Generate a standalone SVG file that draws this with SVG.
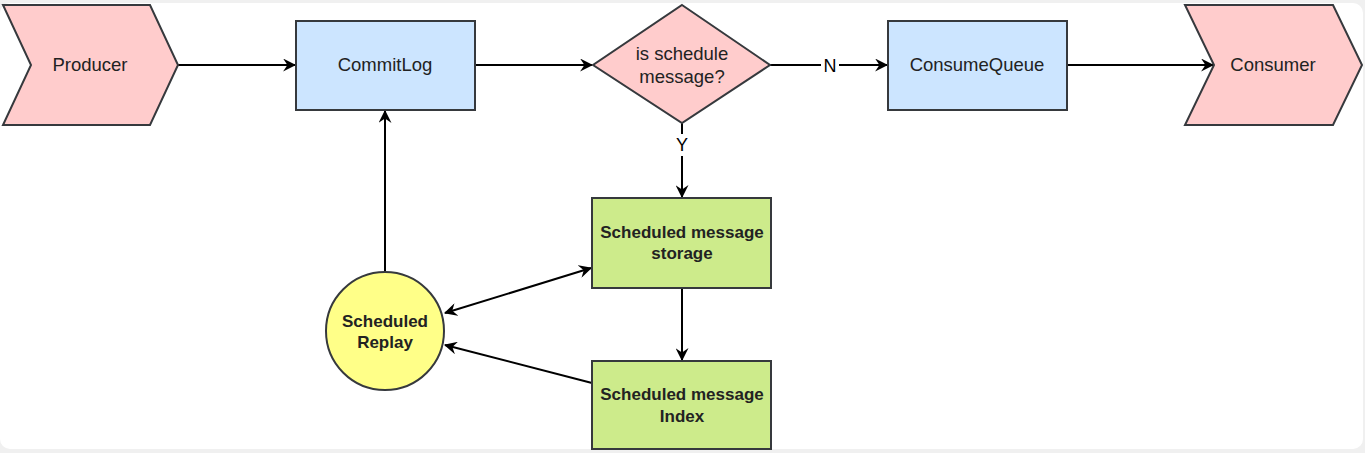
<svg xmlns="http://www.w3.org/2000/svg" width="1365" height="453" viewBox="0 0 1365 453">
<style>
.n{stroke:#36393d;stroke-width:2}
.pink{fill:#ffcccc}
.blue{fill:#cce5ff}
.green{fill:#cdeb8b}
.yel{fill:#ffff88}
text{font-family:"Liberation Sans",Arial,sans-serif;font-size:18.5px;fill:#222;text-anchor:middle;dominant-baseline:central}
.b{font-weight:bold;font-size:17px}
.e{fill:none;stroke:#000;stroke-width:2}
.lbl{font-size:18px;fill:#000}
</style>
<defs>
<marker id="ah" viewBox="0 0 12 12" refX="11" refY="6" markerWidth="13" markerHeight="13" markerUnits="userSpaceOnUse" orient="auto">
<path d="M0,0 L12,6 L0,12 L4,6 Z" fill="#000"/>
</marker>
<marker id="as" viewBox="0 0 12 12" refX="1" refY="6" markerWidth="13" markerHeight="13" markerUnits="userSpaceOnUse" orient="auto">
<path d="M12,0 L0,6 L12,12 L8,6 Z" fill="#000"/>
</marker>
</defs>
<rect x="0" y="0" width="1365" height="453" fill="#f0f0f0"/>
<rect x="0" y="3" width="1363" height="446" rx="10" fill="#ffffff"/>
<g id="connectors">
<line class="e" x1="178" y1="65" x2="295" y2="65" marker-end="url(#ah)"/>
<line class="e" x1="475" y1="65" x2="592" y2="65" marker-end="url(#ah)"/>
<line class="e" x1="770" y1="65" x2="887" y2="65" marker-end="url(#ah)"/>
<rect x="821" y="55" width="18" height="22" fill="#fff"/>
<text class="lbl" x="830" y="66">N</text>
<line class="e" x1="1067" y1="65" x2="1213" y2="65" marker-end="url(#ah)"/>
<line class="e" x1="682" y1="123" x2="682" y2="197" marker-end="url(#ah)"/>
<rect x="672" y="134" width="20" height="22" fill="#fff"/>
<text class="lbl" x="682" y="145">Y</text>
<line class="e" x1="682" y1="288" x2="682" y2="360" marker-end="url(#ah)"/>
<line class="e" x1="385" y1="272" x2="385" y2="111" marker-end="url(#ah)"/>
<line class="e" x1="445" y1="313" x2="591" y2="268" marker-start="url(#as)" marker-end="url(#ah)"/>
<line class="e" x1="592" y1="383" x2="445" y2="345" marker-end="url(#ah)"/>
</g>
<g id="producer">
<path class="n pink" d="M3,5 L150,5 L178,65 L150,125 L3,125 L31,65 Z"/>
<text x="90" y="64">Producer</text>
</g>
<g id="commitlog">
<rect class="n blue" x="296" y="21" width="179" height="89"/>
<text x="385" y="64">CommitLog</text>
</g>
<g id="decision">
<path class="n pink" d="M682,5 L770,65 L682,123 L593,65 Z"/>
<text x="682" y="53">is schedule</text>
<text x="682" y="76">message?</text>
</g>
<g id="consumequeue">
<rect class="n blue" x="888" y="21" width="179" height="89"/>
<text x="977" y="64">ConsumeQueue</text>
</g>
<g id="consumer">
<path class="n pink" d="M1185,5 L1333,5 L1362,65 L1333,125 L1185,125 L1214,65 Z"/>
<text x="1273" y="64">Consumer</text>
</g>
<g id="storage">
<rect class="n green" x="592" y="198" width="179" height="90"/>
<text class="b" x="682" y="232">Scheduled message</text>
<text class="b" x="682" y="253">storage</text>
</g>
<g id="index">
<rect class="n green" x="592" y="361" width="179" height="88"/>
<text class="b" x="682" y="394">Scheduled message</text>
<text class="b" x="682" y="416">Index</text>
</g>
<g id="replay">
<circle class="n yel" cx="385" cy="331" r="59"/>
<text class="b" x="385" y="321">Scheduled</text>
<text class="b" x="385" y="342">Replay</text>
</g>
</svg>
